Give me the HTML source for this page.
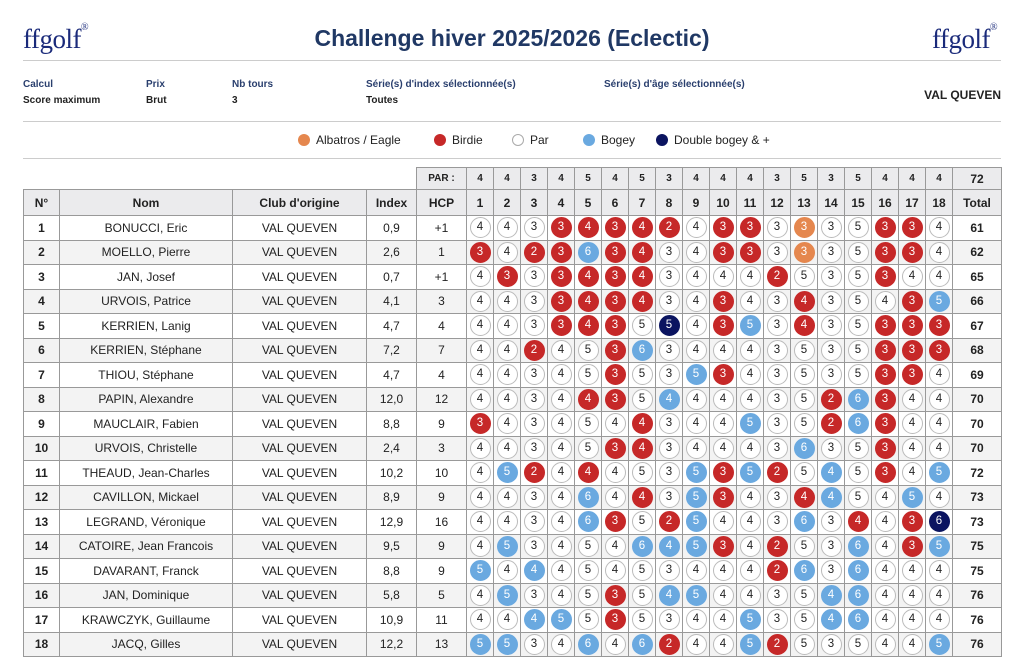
<!DOCTYPE html>
<html><head><meta charset="utf-8"><style>
body{margin:0;width:1024px;height:659px;background:#fff;font-family:"Liberation Sans",sans-serif;position:relative;overflow:hidden;color:#222}
.abs{position:absolute}
.logo{font-family:"Liberation Serif",serif;color:#1a2a7a;font-size:27px;top:24px;letter-spacing:-0.5px}
.logo sup{font-size:10px;vertical-align:top;position:relative;top:-2px}
.title{left:0;width:1024px;text-align:center;top:25px;font-size:23px;font-weight:bold;color:#203864}
.hr{left:23px;width:978px;height:1px;background:#ccc}
.lab{font-size:10px;font-weight:bold;color:#2a3f6e;top:79px}
.val{font-size:10px;font-weight:bold;color:#222;top:95px}
.leg{top:133px;font-size:12px;display:flex;align-items:center}
.leg i{display:inline-block;width:12px;height:12px;border-radius:50%;margin-right:6px;box-sizing:border-box}
table{position:absolute;left:23px;top:167px;border-collapse:collapse;table-layout:fixed;font-size:12px}
td{border:1px solid #999;text-align:center;padding:0;height:23.5px;overflow:hidden;white-space:nowrap}
tr.h td{background:#ebebed;font-weight:bold;font-size:12px}
tr.p td{height:21px;font-size:10px}
tr.hh td{height:25px}
tr.e td{background:#f3f3f3}
td.n{font-weight:bold}
.c{display:inline-block;width:21px;height:21px;border-radius:50%;border:1px solid #bbb;box-sizing:border-box;line-height:19px;font-size:11.5px;background:#fff;vertical-align:middle}
.r{background:#c62828!important;border-color:#c62828;color:#fff}
.o{background:#e5874e!important;border-color:#e5874e;color:#fff}
.b{background:#6aa9e0!important;border-color:#6aa9e0;color:#fff}
.d{background:#0b1460!important;border-color:#0b1460;color:#fff}
</style></head><body>
<div class="abs logo" style="left:23px">ffgolf<sup>®</sup></div>
<div class="abs logo" style="left:932px">ffgolf<sup>®</sup></div>
<div class="abs title">Challenge hiver 2025/2026 (Eclectic)</div>
<div class="abs hr" style="top:60px"></div>
<div class="abs lab" style="left:23px">Calcul</div><div class="abs val" style="left:23px">Score maximum</div>
<div class="abs lab" style="left:146px">Prix</div><div class="abs val" style="left:146px">Brut</div>
<div class="abs lab" style="left:232px">Nb tours</div><div class="abs val" style="left:232px">3</div>
<div class="abs lab" style="left:366px">Série(s) d'index sélectionnée(s)</div><div class="abs val" style="left:366px">Toutes</div>
<div class="abs lab" style="left:604px">Série(s) d'âge sélectionnée(s)</div>
<div class="abs" style="right:23px;top:88px;font-size:12px;font-weight:bold">VAL QUEVEN</div>
<div class="abs hr" style="top:121px"></div>
<div class="abs leg" style="left:298px"><i style="background:#e5874e"></i>Albatros / Eagle</div>
<div class="abs leg" style="left:434px"><i style="background:#c62828"></i>Birdie</div>
<div class="abs leg" style="left:512px"><i style="border:1px solid #aaa"></i>Par</div>
<div class="abs leg" style="left:583px"><i style="background:#6aa9e0"></i>Bogey</div>
<div class="abs leg" style="left:656px"><i style="background:#0b1460"></i>Double bogey &amp; +</div>
<div class="abs hr" style="top:158px"></div>
<table id="t">
<colgroup><col style="width:36px"><col style="width:173px"><col style="width:134px"><col style="width:50px"><col style="width:50px"><col span="18" style="width:27px"><col style="width:49px"></colgroup>
<tr class="h p"><td colspan="4" style="border:none;background:#fff"></td><td>PAR :</td><td>4</td><td>4</td><td>3</td><td>4</td><td>5</td><td>4</td><td>5</td><td>3</td><td>4</td><td>4</td><td>4</td><td>3</td><td>5</td><td>3</td><td>5</td><td>4</td><td>4</td><td>4</td><td style="font-size:12px">72</td></tr>
<tr class="h hh"><td>N°</td><td>Nom</td><td>Club d'origine</td><td>Index</td><td>HCP</td><td>1</td><td>2</td><td>3</td><td>4</td><td>5</td><td>6</td><td>7</td><td>8</td><td>9</td><td>10</td><td>11</td><td>12</td><td>13</td><td>14</td><td>15</td><td>16</td><td>17</td><td>18</td><td>Total</td></tr>
</table>
<script>
var par=[4,4,3,4,5,4,5,3,4,4,4,3,5,3,5,4,4,4];
var rows=[
["BONUCCI, Eric","0,9","+1","4 4 3 3 4 3 4 2 4 3 3 3 3 3 5 3 3 4",61],
["MOELLO, Pierre","2,6","1","3 4 2 3 6 3 4 3 4 3 3 3 3 3 5 3 3 4",62],
["JAN, Josef","0,7","+1","4 3 3 3 4 3 4 3 4 4 4 2 5 3 5 3 4 4",65],
["URVOIS, Patrice","4,1","3","4 4 3 3 4 3 4 3 4 3 4 3 4 3 5 4 3 5",66],
["KERRIEN, Lanig","4,7","4","4 4 3 3 4 3 5 5 4 3 5 3 4 3 5 3 3 3",67],
["KERRIEN, Stéphane","7,2","7","4 4 2 4 5 3 6 3 4 4 4 3 5 3 5 3 3 3",68],
["THIOU, Stéphane","4,7","4","4 4 3 4 5 3 5 3 5 3 4 3 5 3 5 3 3 4",69],
["PAPIN, Alexandre","12,0","12","4 4 3 4 4 3 5 4 4 4 4 3 5 2 6 3 4 4",70],
["MAUCLAIR, Fabien","8,8","9","3 4 3 4 5 4 4 3 4 4 5 3 5 2 6 3 4 4",70],
["URVOIS, Christelle","2,4","3","4 4 3 4 5 3 4 3 4 4 4 3 6 3 5 3 4 4",70],
["THEAUD, Jean-Charles","10,2","10","4 5 2 4 4 4 5 3 5 3 5 2 5 4 5 3 4 5",72],
["CAVILLON, Mickael","8,9","9","4 4 3 4 6 4 4 3 5 3 4 3 4 4 5 4 5 4",73],
["LEGRAND, Véronique","12,9","16","4 4 3 4 6 3 5 2 5 4 4 3 6 3 4 4 3 6",73],
["CATOIRE, Jean Francois","9,5","9","4 5 3 4 5 4 6 4 5 3 4 2 5 3 6 4 3 5",75],
["DAVARANT, Franck","8,8","9","5 4 4 4 5 4 5 3 4 4 4 2 6 3 6 4 4 4",75],
["JAN, Dominique","5,8","5","4 5 3 4 5 3 5 4 5 4 4 3 5 4 6 4 4 4",76],
["KRAWCZYK, Guillaume","10,9","11","4 4 4 5 5 3 5 3 4 4 5 3 5 4 6 4 4 4",76],
["JACQ, Gilles","12,2","13","5 5 3 4 6 4 6 2 4 4 5 2 5 3 5 4 4 5",76]];
var t=document.getElementById('t'),h='';
rows.forEach(function(r,i){
 h+='<tr'+(i%2?' class="e"':'')+'><td class="n">'+(i+1)+'</td><td>'+r[0]+'</td><td>VAL QUEVEN</td><td>'+r[1]+'</td><td>'+r[2]+'</td>';
 r[3].split(' ').forEach(function(s,j){var d=s-par[j];var c=d<=-2?'o':d==-1?'r':d==0?'':d==1?'b':'d';h+='<td><span class="c '+c+'">'+s+'</span></td>';});
 h+='<td class="n">'+r[4]+'</td></tr>';
});
t.insertAdjacentHTML('beforeend',h);
</script>
</body></html>
